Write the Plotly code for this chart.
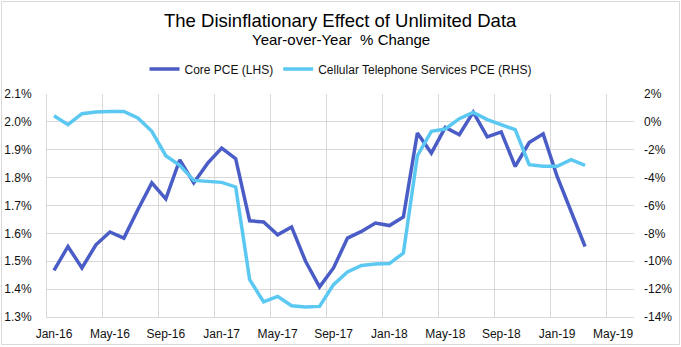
import plotly.graph_objects as go

# ---- data ----
months = ["Jan-16","Feb-16","Mar-16","Apr-16","May-16","Jun-16","Jul-16","Aug-16","Sep-16","Oct-16",
          "Nov-16","Dec-16","Jan-17","Feb-17","Mar-17","Apr-17","May-17","Jun-17","Jul-17","Aug-17",
          "Sep-17","Oct-17","Nov-17","Dec-17","Jan-18","Feb-18","Mar-18","Apr-18","May-18","Jun-18",
          "Jul-18","Aug-18","Sep-18","Oct-18","Nov-18","Dec-18","Jan-19","Feb-19","Mar-19"]
core_pce = [1.467, 1.553, 1.476, 1.559, 1.605, 1.583, 1.685, 1.781, 1.724, 1.864,
            1.781, 1.852, 1.906, 1.868, 1.645, 1.641, 1.595, 1.623, 1.500, 1.408,
            1.476, 1.583, 1.607, 1.637, 1.628, 1.659, 1.960, 1.888, 1.980, 1.954,
            2.035, 1.946, 1.964, 1.840, 1.926, 1.957, 1.804, 1.675, 1.553]
cellular = [0.44, -0.20, 0.59, 0.71, 0.75, 0.75, 0.28, -0.68, -2.43, -3.12,
            -4.20, -4.27, -4.34, -4.67, -11.32, -12.92, -12.52, -13.19, -13.28, -13.24,
            -11.68, -10.77, -10.30, -10.20, -10.17, -9.41, -2.43, -0.68, -0.51, 0.23,
            0.68, 0.16, -0.20, -0.56, -3.07, -3.19, -3.19, -2.71, -3.12]
x_tick_labels = ["Jan-16","May-16","Sep-16","Jan-17","May-17","Sep-17","Jan-18","May-18","Sep-18","Jan-19","May-19"]
left_ticks = [1.3, 1.4, 1.5, 1.6, 1.7, 1.8, 1.9, 2.0, 2.1]
left_labels = ["1.3%","1.4%","1.5%","1.6%","1.7%","1.8%","1.9%","2.0%","2.1%"]
right_ticks = [-14, -12, -10, -8, -6, -4, -2, 0, 2]
right_labels = ["-14%","-12%","-10%","-8%","-6%","-4%","-2%","0%","2%"]

# month positions (slot index) for the x axis
x_idx = list(range(len(months)))
n_slots = 42  # Jan-16 .. Jun-19
tick_idx = [4 * i for i in range(len(x_tick_labels))]

DARK = "#4A5CC5"
LIGHT = "#5BC8F2"
GRID = "#D9D9D9"
FONT = "Liberation Sans, Arial, sans-serif"
TXT = "#111111"

W, H = 681, 347
ML, MR, MT, MB = 47, 47, 94, 30
PW, PH = W - ML - MR, H - MT - MB

def px_x(px):
    return (px - ML) / PW

def px_y(py):
    return (H - MB - py) / PH

fig = go.Figure()
fig.add_trace(go.Scatter(x=x_idx, y=core_pce, name="Core PCE (LHS)", mode="lines",
                         line=dict(color=DARK, width=3.5), yaxis="y"))
fig.add_trace(go.Scatter(x=x_idx, y=cellular, name="Cellular Telephone Services PCE (RHS)", mode="lines",
                         line=dict(color=LIGHT, width=3.5), yaxis="y2"))

fig.update_layout(
    width=W, height=H,
    margin=dict(l=ML, r=MR, t=MT, b=MB, pad=0, autoexpand=False),
    paper_bgcolor="white", plot_bgcolor="white",
    font=dict(family=FONT, size=12, color=TXT),
    showlegend=True,
    legend=dict(orientation="h", x=0.5, xanchor="center", y=px_y(69), yanchor="middle",
                font=dict(size=12, color=TXT), itemwidth=30, tracegroupgap=0,
                bgcolor="rgba(0,0,0,0)"),
    xaxis=dict(range=[-0.5, n_slots - 0.5], tickmode="array", tickvals=tick_idx, ticktext=x_tick_labels,
               showgrid=False, zeroline=False, showline=True, linecolor=GRID, linewidth=1,
               automargin=False,
               ticks="", ticklabelstandoff=6, tickfont=dict(size=12, color=TXT),
               minor=dict(tick0=-0.5, dtick=4, showgrid=True, gridcolor=GRID, gridwidth=1, ticks="")),
    yaxis=dict(range=[1.3, 2.1], tickmode="array", tickvals=left_ticks, ticktext=left_labels,
               showgrid=True, gridcolor=GRID, gridwidth=1, zeroline=False, automargin=False,
               showline=True, linecolor=GRID, linewidth=1, ticks="", ticklabelstandoff=12,
               tickfont=dict(size=12, color=TXT)),
    yaxis2=dict(range=[-14, 2], tickmode="array", tickvals=right_ticks, ticktext=right_labels,
                overlaying="y", side="right", showgrid=False, zeroline=False, showline=False,
                automargin=False,
                ticks="", ticklabelstandoff=9, tickfont=dict(size=12, color=TXT)),
)

fig.add_annotation(text="The Disinflationary Effect of Unlimited Data", xref="paper", yref="paper",
                   x=0.5, y=px_y(21), xanchor="center", yanchor="middle", showarrow=False,
                   font=dict(size=18.5, color="#000000", family=FONT))
fig.add_annotation(text="Year-over-Year  % Change", xref="paper", yref="paper",
                   x=0.5, y=px_y(39.5), xanchor="center", yanchor="middle", showarrow=False,
                   font=dict(size=15, color="#000000", family=FONT))

# chart border
fig.add_shape(type="rect", xref="paper", yref="paper", layer="below",
              x0=px_x(1.5), x1=px_x(679.5), y0=px_y(344.5), y1=px_y(1.5),
              line=dict(color=GRID, width=1), fillcolor="rgba(0,0,0,0)")

fig.write_html("out.html")
